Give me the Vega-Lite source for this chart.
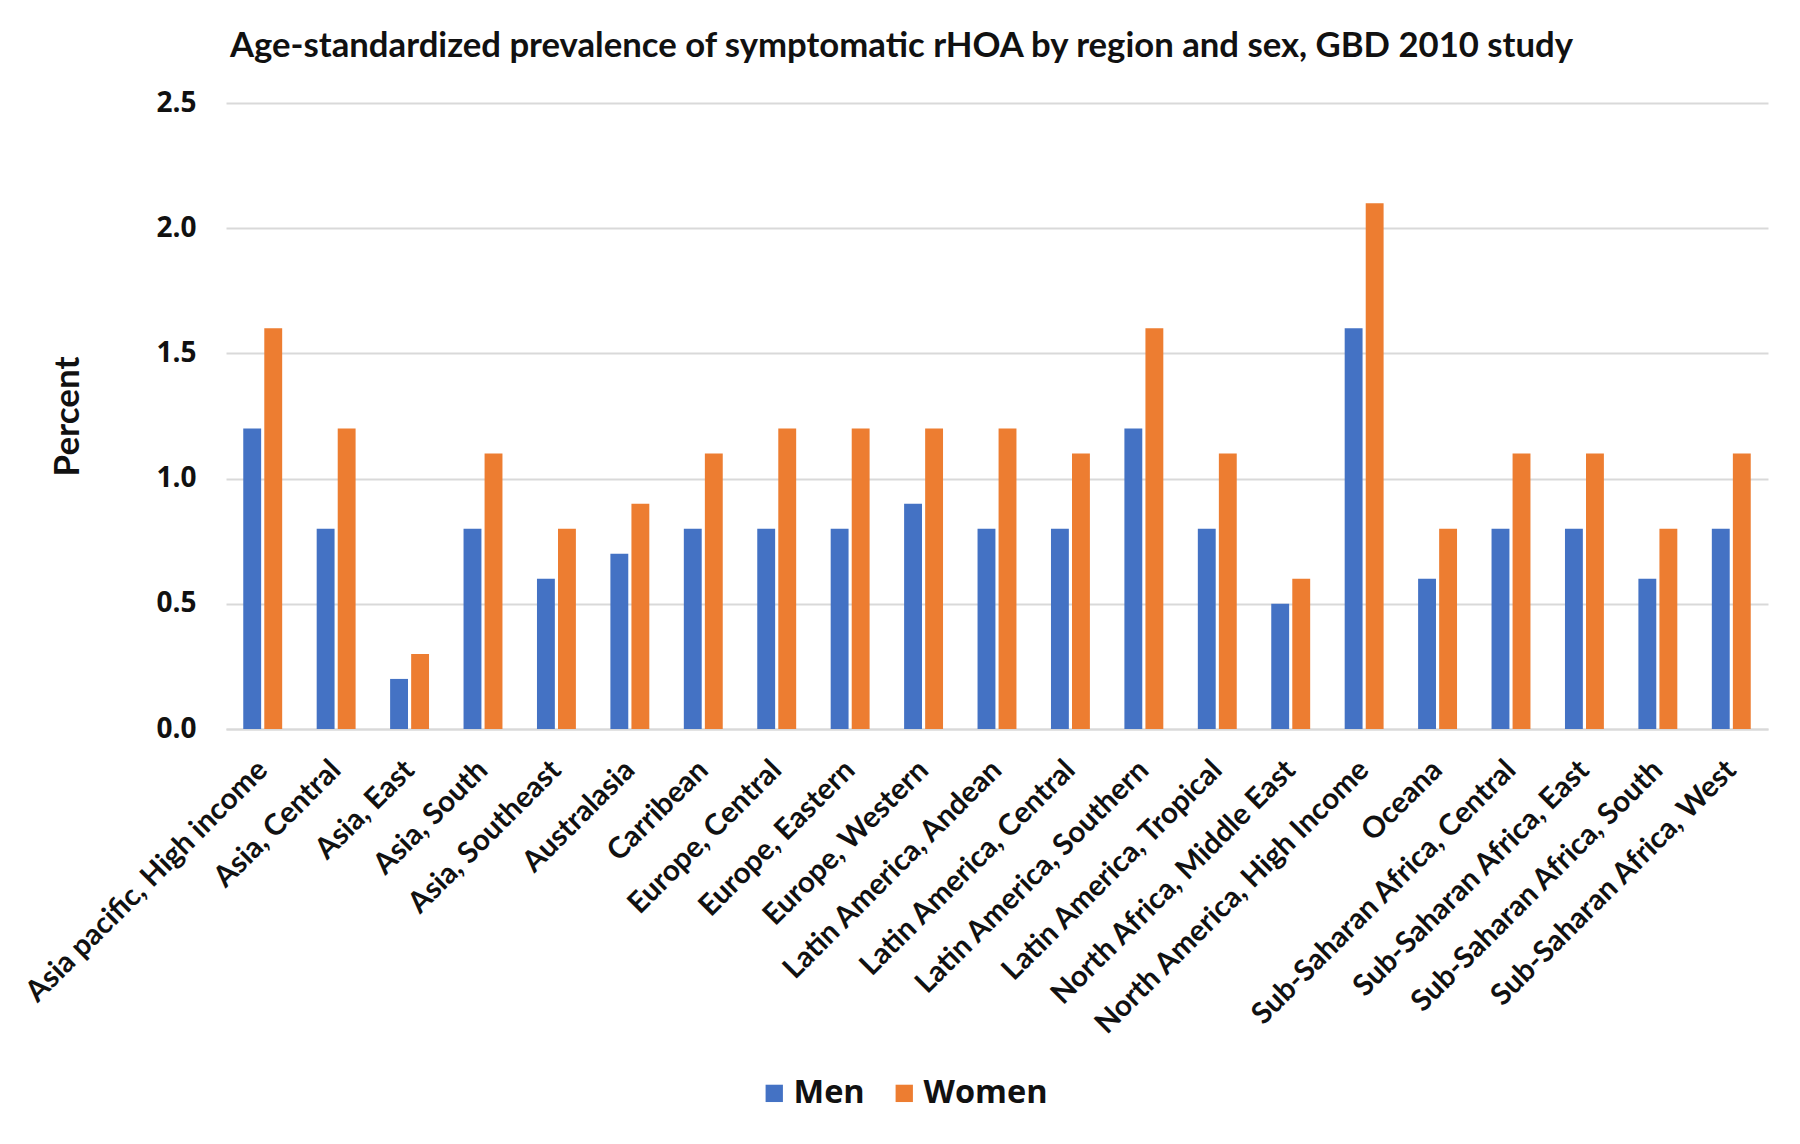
{
  "$schema": "https://vega.github.io/schema/vega-lite/v6.json",
  "autosize": "none",
  "width": 1542,
  "height": 626,
  "padding": {"left": 226, "top": 103, "right": 32, "bottom": 415},
  "background": "white",
  "title": {
    "text": "Age-standardized prevalence of  symptomatic rHOA by region and sex, GBD 2010 study",
    "anchor": "start",
    "frame": "group",
    "dx": 4,
    "offset": 24,
    "font": "Lato",
    "fontWeight": "bold",
    "fontSize": 34.7,
    "color": "#111111"
  },
  "data": {
    "values": [
      {"region": "Asia pacific, High income", "sex": "Men", "value": 1.2},
      {"region": "Asia pacific, High income", "sex": "Women", "value": 1.6},
      {"region": "Asia, Central", "sex": "Men", "value": 0.8},
      {"region": "Asia, Central", "sex": "Women", "value": 1.2},
      {"region": "Asia, East", "sex": "Men", "value": 0.2},
      {"region": "Asia, East", "sex": "Women", "value": 0.3},
      {"region": "Asia, South", "sex": "Men", "value": 0.8},
      {"region": "Asia, South", "sex": "Women", "value": 1.1},
      {"region": "Asia, Southeast", "sex": "Men", "value": 0.6},
      {"region": "Asia, Southeast", "sex": "Women", "value": 0.8},
      {"region": "Australasia", "sex": "Men", "value": 0.7},
      {"region": "Australasia", "sex": "Women", "value": 0.9},
      {"region": "Carribean", "sex": "Men", "value": 0.8},
      {"region": "Carribean", "sex": "Women", "value": 1.1},
      {"region": "Europe, Central", "sex": "Men", "value": 0.8},
      {"region": "Europe, Central", "sex": "Women", "value": 1.2},
      {"region": "Europe, Eastern", "sex": "Men", "value": 0.8},
      {"region": "Europe, Eastern", "sex": "Women", "value": 1.2},
      {"region": "Europe, Western", "sex": "Men", "value": 0.9},
      {"region": "Europe, Western", "sex": "Women", "value": 1.2},
      {"region": "Latin America, Andean", "sex": "Men", "value": 0.8},
      {"region": "Latin America, Andean", "sex": "Women", "value": 1.2},
      {"region": "Latin America, Central", "sex": "Men", "value": 0.8},
      {"region": "Latin America, Central", "sex": "Women", "value": 1.1},
      {"region": "Latin America, Southern", "sex": "Men", "value": 1.2},
      {"region": "Latin America, Southern", "sex": "Women", "value": 1.6},
      {"region": "Latin America, Tropical", "sex": "Men", "value": 0.8},
      {"region": "Latin America, Tropical", "sex": "Women", "value": 1.1},
      {"region": "North Africa, Middle East", "sex": "Men", "value": 0.5},
      {"region": "North Africa, Middle East", "sex": "Women", "value": 0.6},
      {"region": "North America, High Income", "sex": "Men", "value": 1.6},
      {"region": "North America, High Income", "sex": "Women", "value": 2.1},
      {"region": "Oceana", "sex": "Men", "value": 0.6},
      {"region": "Oceana", "sex": "Women", "value": 0.8},
      {"region": "Sub-Saharan Africa, Central", "sex": "Men", "value": 0.8},
      {"region": "Sub-Saharan Africa, Central", "sex": "Women", "value": 1.1},
      {"region": "Sub-Saharan Africa, East", "sex": "Men", "value": 0.8},
      {"region": "Sub-Saharan Africa, East", "sex": "Women", "value": 1.1},
      {"region": "Sub-Saharan Africa, South", "sex": "Men", "value": 0.6},
      {"region": "Sub-Saharan Africa, South", "sex": "Women", "value": 0.8},
      {"region": "Sub-Saharan Africa, West", "sex": "Men", "value": 0.8},
      {"region": "Sub-Saharan Africa, West", "sex": "Women", "value": 1.1}
    ]
  },
  "mark": {"type": "bar"},
  "encoding": {
    "x": {
      "field": "region",
      "type": "nominal",
      "sort": null,
      "scale": {"paddingInner": 0.47, "paddingOuter": 0.235},
      "axis": {
        "title": null,
        "labelAngle": -45,
        "labelAlign": "right",
        "labelBaseline": "middle",
        "labelFont": "Lato",
        "labelFontWeight": "bold",
        "labelFontSize": 29.5,
        "labelColor": "#111111",
        "labelPadding": 36,
        "labelLimit": 700,
        "ticks": false,
        "domainColor": "#D9D9D9",
        "domainWidth": 2,
        "grid": false
      }
    },
    "xOffset": {
      "field": "sex",
      "type": "nominal",
      "scale": {"paddingInner": 0.15}
    },
    "y": {
      "field": "value",
      "type": "quantitative",
      "scale": {"domain": [0, 2.5]},
      "axis": {
        "title": "Percent",
        "titleFont": "Lato",
        "titleFontWeight": "bold",
        "titleFontSize": 35,
        "titleColor": "#111111",
        "titlePadding": 70,
        "values": [0, 0.5, 1, 1.5, 2, 2.5],
        "format": ".1f",
        "labelFont": "Open Sans",
        "labelFontWeight": "bold",
        "labelFontSize": 28,
        "labelColor": "#111111",
        "labelPadding": 30,
        "ticks": false,
        "domain": false,
        "gridColor": "#D9D9D9",
        "gridWidth": 2
      }
    },
    "color": {
      "field": "sex",
      "type": "nominal",
      "scale": {"domain": ["Men", "Women"], "range": ["#4472C4", "#ED7D31"]},
      "legend": {
        "title": null,
        "orient": "none",
        "direction": "horizontal",
        "legendX": 532,
        "legendY": 974,
        "symbolType": "square",
        "symbolSize": 300,
        "symbolStrokeWidth": 0,
        "labelFont": "Open Sans",
        "labelFontWeight": "bold",
        "labelFontSize": 32.5,
        "labelColor": "#111111",
        "labelOffset": 3,
        "columnPadding": 23
      }
    }
  },
  "config": {"view": {"stroke": null}}
}
